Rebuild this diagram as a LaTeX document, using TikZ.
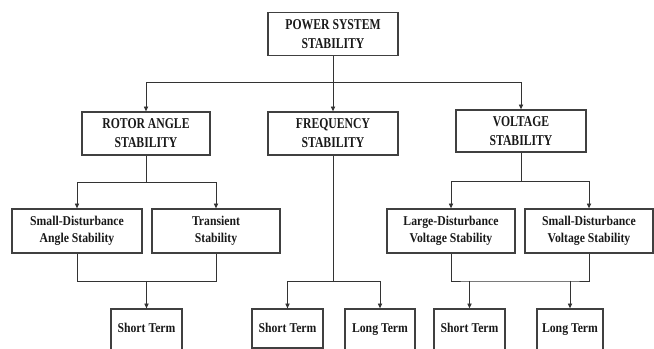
\documentclass[tikz,border=0pt]{standalone}
\usepackage{fontspec}
\usetikzlibrary{arrows.meta}
\newfontfamily\topfont[FakeStretch=0.78]{Liberation Serif}
\newfontfamily\lowfont[FakeStretch=0.87]{Liberation Serif}
\tikzset{
  box/.style={draw=black!75, line width=1pt, rectangle, inner sep=0pt, align=center, text=black!90},
  topbox/.style={box, minimum width=130*0.75pt, minimum height=43*0.75pt,
     font=\topfont\bfseries\fontsize{11.25pt}{14.25pt}\selectfont},
  midbox/.style={box, minimum width=129*0.75pt, minimum height=44*0.75pt,
     font=\lowfont\bfseries\fontsize{10.1pt}{12.4pt}\selectfont},
  botbox/.style={box, minimum width=71*0.75pt, minimum height=39*0.75pt, text height=6.7pt, text depth=0pt,
     font=\lowfont\bfseries\fontsize{10.1pt}{12.4pt}\selectfont},
  botlong/.style={botbox, minimum height=47*0.75pt, text depth=6pt},
  conn/.style={draw=black!80, line width=0.6pt},
  arr/.style={conn, -{Triangle[length=3.6pt,width=3.2pt]}}
}
\begin{document}
\begin{tikzpicture}[x=0.75pt, y=-0.75pt]
\useasboundingbox (0,0) rectangle (654,349);
% top
\node[topbox] (ps) at (333,34) {POWER SYSTEM\\STABILITY};
\node[topbox, minimum width=128*0.75pt] (ra) at (146,133.5) {ROTOR ANGLE\\STABILITY};
\node[topbox] (fr) at (333,133.5) {FREQUENCY\\STABILITY};
\node[topbox, minimum height=42*0.75pt] (vs) at (521,131) {VOLTAGE\\STABILITY};
% middle
\node[midbox, minimum width=130*0.75pt] (sda) at (77,231) {Small-Disturbance\\Angle Stability};
\node[midbox, minimum width=128*0.75pt] (tr) at (216,231) {Transient\\Stability};
\node[midbox, minimum width=128*0.75pt] (ldv) at (451,231) {Large-Disturbance\\Voltage Stability};
\node[midbox, minimum width=128*0.75pt] (sdv) at (589,231) {Small-Disturbance\\Voltage Stability};
% bottom
\node[botlong] (rst) at (146.5,332.5) {Short Term};
\node[botbox] (fst) at (287.5,328.5) {Short Term};
\node[botlong, minimum width=70*0.75pt] (flt) at (380,332.5) {Long Term};
\node[botlong] (vst) at (469.5,332.5) {Short Term};
\node[botlong, minimum width=66*0.75pt] (vlt) at (570,332.5) {Long Term};
% junctions
\coordinate (j0) at (333,82);
\coordinate (j1) at (146,182);
\coordinate (j2) at (146.5,281);
\coordinate (j3) at (333,281);
\coordinate (j4) at (521,181);
\coordinate (j5l) at (469.5,281);
\coordinate (j5r) at (570,281);
% level 1
\draw[conn] (ps.south) -- (j0);
\draw[arr] (j0) -| (ra.north);
\draw[arr] (j0) -- (fr.north);
\draw[arr] (j0) -| (vs.north);
% rotor
\draw[conn] (ra.south) -- (j1);
\draw[arr] (j1) -| (sda.north);
\draw[arr] (j1) -| (tr.north);
\draw[conn] (sda.south) |- (j2);
\draw[conn] (tr.south) |- (j2);
\draw[arr] (j2) -- (rst.north);
% frequency
\draw[conn] (fr.south) -- (j3);
\draw[arr] (j3) -| (fst.north);
\draw[arr] (j3) -| (flt.north);
% voltage
\draw[conn] (vs.south) -- (j4);
\draw[arr] (j4) -| (ldv.north);
\draw[arr] (j4) -| (sdv.north);
\draw[conn] (ldv.south) |- (j5l) -- (j5r) -| (sdv.south);
\draw[arr] (j5l) -- (vst.north);
\draw[arr] (j5r) -- (vlt.north);
\end{tikzpicture}
\end{document}
